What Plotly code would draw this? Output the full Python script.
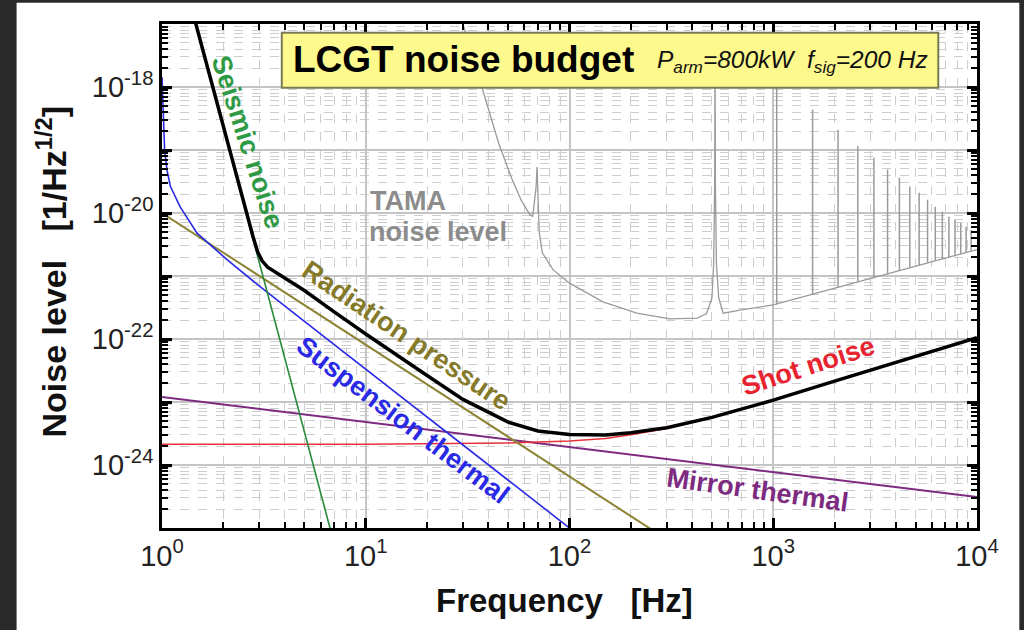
import plotly.graph_objects as go

# ---------------- data ----------------
seismic_f = [1.4, 2, 3, 4, 5, 6, 7]
seismic_n = [1.74e-17, 2.29e-19, 1.66e-21, 5.0e-23, 3.39e-24, 3.63e-25, 5.62e-26]

susp_f = [1.0, 1.007, 1.014, 1.03, 1.058, 1.1, 1.226, 1.486, 2.085, 3.03, 5, 10, 20, 50, 100, 120]
susp_n = [1.445e-18, 6.31e-19, 3.02e-19, 1.0e-19, 4.79e-20, 2.63e-20, 1.259e-20, 4.79e-21,
          1.82e-21, 6.76e-22, 1.905e-22, 3.31e-23, 5.75e-24, 5.75e-25, 1.0e-25, 6.31e-26]

rad_f = [1, 10, 100, 300]
rad_n = [1.0e-20, 8.13e-23, 6.61e-25, 6.61e-26]

shot_f = [1, 10, 50, 100, 150, 200, 300, 500, 700, 1000, 2000, 5000, 10000]
shot_n = [2.14e-24, 2.14e-24, 2.24e-24, 2.40e-24, 2.63e-24, 3.02e-24, 3.80e-24, 5.62e-24,
          7.76e-24, 1.07e-23, 2.14e-23, 5.25e-23, 1.047e-22]

mirror_f = [1, 10, 100, 1000, 10000]
mirror_n = [1.20e-23, 4.79e-24, 1.905e-24, 7.76e-25, 3.09e-25]

total_f = [1.4, 2, 2.5, 2.8, 2.95, 3.1, 3.3, 3.6, 4, 5, 7, 10, 20, 30, 50, 70, 100, 150, 200,
           300, 500, 1000, 2000, 5000, 10000]
total_n = [1.74e-17, 2.29e-19, 1.55e-20, 4.17e-21, 2.4e-21, 1.74e-21, 1.38e-21, 1.15e-21,
           9.55e-22, 5.89e-22, 2.69e-22, 1.20e-22, 2.63e-23, 1.10e-23, 4.79e-24, 3.47e-24,
           3.05e-24, 3.0e-24, 3.24e-24, 3.9e-24, 5.7e-24, 1.07e-23, 2.14e-23, 5.25e-23,
           1.047e-22]

tama_f = [30, 37.6, 45, 52, 58, 64, 66, 68.5, 69.3, 70, 71, 73.5, 83, 99.6, 146, 214, 311,
          423, 470, 500, 510, 516, 518, 520, 526, 540, 568, 687, 1000, 10000]
tama_n = [1.0e-17, 9.12e-19, 1.26e-19, 3.55e-20, 1.585e-20, 9.33e-21, 8.91e-21, 2.51e-20,
          5.37e-20, 2.0e-20, 5.01e-21, 2.34e-21, 1.26e-21, 7.76e-22, 3.89e-22, 2.57e-22,
          2.09e-22, 2.14e-22, 2.51e-22, 4.47e-22, 1.585e-21, 3.16e-20, 6.31e-18, 3.16e-20,
          1.585e-21, 4.47e-22, 2.57e-22, 2.88e-22, 3.47e-22, 2.63e-21]

spike_f = [1040, 1560, 2080, 2600, 3120, 3640, 4160, 4680, 5200, 5720, 6240, 6760, 7280,
           7800, 8320, 8840, 9360]
spike_base = [3.55e-22, 5.13e-22, 6.61e-22, 8.13e-22, 9.33e-22, 1.07e-21, 1.20e-21, 1.35e-21,
              1.48e-21, 1.62e-21, 1.74e-21, 1.86e-21, 2.0e-21, 2.09e-21, 2.24e-21, 2.34e-21,
              2.45e-21]
spike_peak = [3.16e-18, 4.37e-19, 2.09e-19, 1.15e-19, 7.59e-20, 4.90e-20, 3.63e-20, 2.63e-20,
              2.09e-20, 1.62e-20, 1.26e-20, 1.05e-20, 8.71e-21, 7.76e-21, 6.92e-21, 6.03e-21,
              5.37e-21]

x_tick_vals = [1, 10, 100, 1000, 10000]
x_tick_text = ["10<sup>0</sup>", "10<sup>1</sup>", "10<sup>2</sup>", "10<sup>3</sup>", "10<sup>4</sup>"]
y_tick_vals = [1e-25, 1e-24, 1e-23, 1e-22, 1e-21, 1e-20, 1e-19, 1e-18, 1e-17]
y_tick_text = ["", "10<sup>-24</sup>", "", "10<sup>-22</sup>", "", "10<sup>-20</sup>", "",
               "10<sup>-18</sup>", ""]

# ---------------- figure ----------------
FONT = "Liberation Sans, Arial, sans-serif"
fig = go.Figure()


def add_line(x, y, color, width):
    fig.add_trace(go.Scatter(x=x, y=y, mode="lines", line=dict(color=color, width=width),
                             showlegend=False, hoverinfo="skip"))


add_line(tama_f, tama_n, "#9a9a9a", 1.3)
sx, sy = [], []
for f, b, p in zip(spike_f, spike_base, spike_peak):
    sx += [f, f, None]
    sy += [b, p, None]
add_line(sx, sy, "#9a9a9a", 1.5)
add_line(mirror_f, mirror_n, "#7d2b80", 2)
add_line(shot_f, shot_n, "#e8323a", 1.6)
add_line(rad_f, rad_n, "#8c8434", 2)
add_line(susp_f, susp_n, "#2a2ae6", 1.6)
add_line(seismic_f, seismic_n, "#2a8a3c", 1.6)
add_line(total_f, total_n, "#000000", 3.5)

minor_x = [m * 10 ** k for k in range(0, 4) for m in range(2, 10)]
minor_y = [m * 10.0 ** k for k in range(-25, -17) for m in range(2, 10)]

axis_common = dict(
    type="log", showline=True, linecolor="black", linewidth=2.5, mirror="allticks",
    ticks="inside", ticklen=10, tickwidth=2.5, tickcolor="black",
    showgrid=True, gridcolor="#c4c4c4", gridwidth=1.5, zeroline=False,
    tickfont=dict(family=FONT, size=29, color="#222"),
)
fig.update_xaxes(**axis_common, range=[0, 4], tickmode="array", tickvals=x_tick_vals,
                 ticktext=x_tick_text,
                 minor=dict(tickmode="array", tickvals=minor_x, ticks="inside", ticklen=6,
                            tickwidth=1.5, tickcolor="black", showgrid=True,
                            gridcolor="#cdcdcd", griddash="dash", gridwidth=1))
fig.update_yaxes(**axis_common, range=[-25, -17], tickmode="array", tickvals=y_tick_vals,
                 ticktext=y_tick_text,
                 minor=dict(tickmode="array", tickvals=minor_y, ticks="inside", ticklen=6,
                            tickwidth=1.5, tickcolor="black", showgrid=True,
                            gridcolor="#cdcdcd", griddash="dash", gridwidth=1))

L, T, R, B = 162.3, 24.3, 976.7, 528.0
W, H = R - L, B - T


def px(x):
    return (x - L) / W


def py(y):
    return (B - y) / H


shapes = [
    # white page on a dark frame
    dict(type="rect", xref="paper", yref="paper", x0=px(17), x1=px(1019), y0=py(632), y1=py(3),
         fillcolor="white", line=dict(width=0), layer="below"),
    # title box
    dict(type="rect", xref="paper", yref="paper", x0=px(282), x1=px(938), y0=py(88), y1=py(33),
         fillcolor="#fdf98c", line=dict(color="#7a7a50", width=2), layer="above"),
]

ann = []


def label(text, x, y, color, size, angle=0, bold=True, xanchor="center"):
    ann.append(dict(text=f"<b>{text}</b>" if bold else text, xref="paper", yref="paper",
                    x=px(x), y=py(y), showarrow=False, textangle=angle,
                    xanchor=xanchor, yanchor="middle",
                    font=dict(family=FONT, size=size, color=color)))


label("Seismic noise", 248, 142, "#2f9a45", 27, 72)
label("Radiation pressure", 407, 336, "#857a2a", 27, 34)
label("Suspension thermal", 403, 420, "#2a2ae6", 27, 37)
label("Shot noise", 808, 366, "#e8222e", 27, -18)
label("Mirror thermal", 757, 490, "#7d2b80", 27, 8)
label("TAMA", 368, 201, "#8c8c8c", 27, 0, xanchor="left")
label("noise level", 367, 232, "#8c8c8c", 27, 0, xanchor="left")
label("LCGT noise budget", 291, 60, "#000", 37, 0, xanchor="left")
label("<i>P<sub>arm</sub>=800kW  f<sub>sig</sub>=200 Hz</i>", 930, 62, "#111", 24.5, 0,
      bold=False, xanchor="right")
label("Frequency&nbsp;&nbsp;&nbsp;[Hz]", 565, 600, "#111", 33, 0)
label("Noise level&nbsp;&nbsp;&nbsp;[1/Hz<sup>1/2</sup>]", 52, 272, "#111", 34, -90)

fig.update_layout(
    width=1024, height=630, autosize=False,
    margin=dict(l=L, r=1024 - R, t=T, b=630 - B, pad=0),
    paper_bgcolor="#2a2a2a", plot_bgcolor="white",
    shapes=shapes, annotations=ann, showlegend=False,
    font=dict(family=FONT),
)

fig.write_html("out.html")
